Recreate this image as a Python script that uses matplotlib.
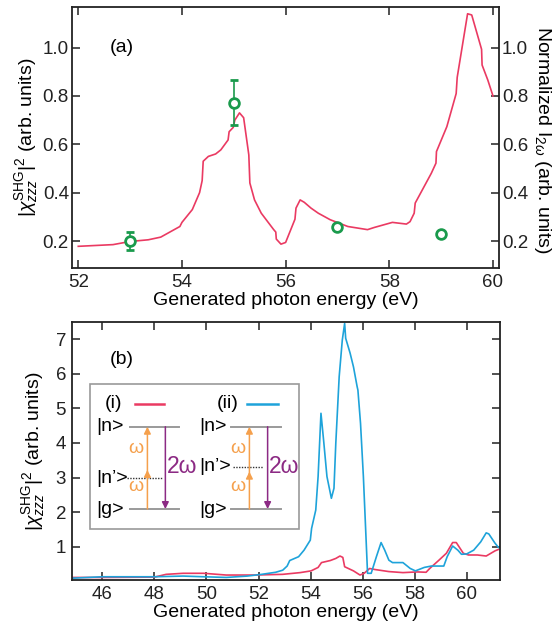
import matplotlib
matplotlib.use("Agg")
import matplotlib.pyplot as plt
from matplotlib.patches import Rectangle, FancyArrowPatch

plt.rcParams['font.family'] = ['Liberation Sans', 'DejaVu Sans']
plt.rcParams['mathtext.fontset'] = 'custom'
plt.rcParams['mathtext.rm'] = 'Liberation Sans'
plt.rcParams['mathtext.it'] = 'Liberation Sans:italic'
plt.rcParams['mathtext.sf'] = 'Liberation Sans'

RED = '#ea3a62'
BLUE = '#1ea3da'
GREEN = '#1a9a4c'
ORANGE = '#f5a04c'
PURPLE = '#8c2a84'
GRAY = '#9a9a9a'

# ---- panel (a): normalized harmonic intensity and extracted |chi|^2 ----
a_energy = [52.0, 52.67, 53.0, 53.35, 53.59, 53.96, 54.0, 54.2, 54.34, 54.39, 54.41,
            54.51, 54.65, 54.75, 54.89, 54.91, 54.99, 55.02, 55.11, 55.19, 55.29,
            55.31, 55.40, 55.53, 55.77, 55.81, 55.82, 55.91, 56.0, 56.18, 56.20,
            56.28, 56.36, 56.49, 56.63, 56.86, 57.2, 57.58, 57.71, 58.06, 58.33,
            58.4, 58.48, 58.5, 58.81, 58.9, 58.91, 59.11, 59.29, 59.31, 59.51,
            59.59, 59.78, 59.79, 59.9, 60.0]
a_intensity = [0.178, 0.185, 0.198, 0.205, 0.216, 0.26, 0.277, 0.33, 0.40, 0.45, 0.53,
               0.55, 0.56, 0.577, 0.618, 0.652, 0.67, 0.70, 0.73, 0.71, 0.556,
               0.44, 0.37, 0.315, 0.247, 0.237, 0.208, 0.187, 0.194, 0.29, 0.336,
               0.37, 0.36, 0.336, 0.315, 0.288, 0.26, 0.247, 0.256, 0.277, 0.27,
               0.28, 0.315, 0.357, 0.48, 0.522, 0.57, 0.673, 0.81, 0.877, 1.14,
               1.135, 0.993, 0.928, 0.866, 0.80]

chi_energy = [53, 55, 57, 59]
chi_value = [0.200, 0.770, 0.257, 0.227]
chi_err_low = [0.039, 0.091, 0.0, 0.0]
chi_err_high = [0.037, 0.094, 0.0, 0.0]

# ---- panel (b): calculated |chi|^2 for the two pathways ----
b_energy_i = [44.86, 46.0, 48.0, 48.45, 49.1, 49.9, 50.76, 51.84, 52.93, 53.6, 54.02,
              54.29, 54.42, 54.76, 54.97, 55.13, 55.24, 55.31, 55.65, 55.9, 56.06,
              56.27, 56.47, 57.01, 57.55, 58.1, 58.44, 58.58, 58.92, 59.22, 59.46,
              59.6, 59.87, 60.07, 60.41, 60.75, 61.09, 61.22]
b_chi_i = [0.11, 0.11, 0.12, 0.2, 0.23, 0.23, 0.18, 0.18, 0.2, 0.25, 0.3,
           0.4, 0.54, 0.6, 0.66, 0.73, 0.69, 0.42, 0.3, 0.18, 0.23,
           0.37, 0.34, 0.28, 0.25, 0.27, 0.26, 0.37, 0.6, 0.81, 1.12,
           1.12, 0.81, 0.76, 0.76, 0.73, 0.88, 0.92]

b_energy_ii = [44.86, 46.0, 48.0, 49.1, 49.9, 50.76, 51.57, 52.12, 52.66, 52.93, 53.1,
               53.2, 53.54, 53.75, 53.99, 54.04, 54.2, 54.29, 54.4, 54.5, 54.63,
               54.8, 54.9, 54.97, 55.1, 55.22, 55.31, 55.35, 55.52, 55.65, 55.79,
               55.82, 55.92, 56.03, 56.19, 56.33, 56.53, 56.71, 56.85, 57.01, 57.15,
               57.55, 57.83, 58.03, 58.37, 58.64, 59.12, 59.25, 59.46, 59.66, 59.8,
               60.0, 60.27, 60.54, 60.75, 60.85, 61.09, 61.22]
b_chi_ii = [0.09, 0.13, 0.13, 0.15, 0.13, 0.11, 0.15, 0.2, 0.26, 0.32, 0.44,
            0.6, 0.71, 0.9, 1.19, 1.53, 2.06, 3.03, 4.86, 4.09, 3.03,
            2.4, 2.69, 3.99, 5.92, 6.98, 7.46, 7.03, 6.6, 6.2, 5.63,
            5.53, 4.57, 3.03, 0.23, 0.23, 0.71, 1.12, 0.9, 0.61, 0.54,
            0.54, 0.37, 0.3, 0.4, 0.44, 0.44, 0.71, 1.02, 0.9, 0.78,
            0.79, 0.9, 1.14, 1.4, 1.37, 1.1, 0.98]

a_xticks = [52, 54, 56, 58, 60]
a_yticks = [0.2, 0.4, 0.6, 0.8, 1.0]
b_xticks = [46, 48, 50, 52, 54, 56, 58, 60]
b_yticks = [1, 2, 3, 4, 5, 6, 7]

FS = 14
TFS = 13.5
fig = plt.figure(figsize=(5.54, 6.30), dpi=100)
ax1 = fig.add_axes([0.1294, 0.5741, 0.7713, 0.4148])
ax2 = fig.add_axes([0.1294, 0.0794, 0.7731, 0.4100])


def style(ax):
    for s in ax.spines.values():
        s.set_linewidth(1.3)
        s.set_color('#222222')
    ax.tick_params(direction='in', length=6, width=1.1, top=True, right=True,
                   labelsize=TFS, colors='#222222', pad=4)


# panel (a)
ax1.plot(a_energy, a_intensity, color=RED, lw=1.2)
ax1.errorbar(chi_energy, chi_value, yerr=[chi_err_low, chi_err_high], fmt='o',
             mfc='white', mec=GREEN, mew=2.0, ms=7, ecolor=GREEN, elinewidth=1.2,
             capsize=3, capthick=1.2)
ax1.set_xlim(51.873, 60.116)
ax1.set_ylim(0.087, 1.168)
ax1.set_xticks(a_xticks)
ax1.set_yticks(a_yticks)
ax1.set_yticklabels([f'{v:.1f}' for v in a_yticks])
style(ax1)
ax1.tick_params(axis='y', labelright=True, pad=2)
ax1.set_xlabel('Generated photon energy (eV)', fontsize=FS, labelpad=1)
ax1.set_ylabel(r'$|\chi^{\rm SHG}_{zzz}|^2$ (arb. units)', fontsize=FS, labelpad=2)
fig.text(0.980, 0.778, r'Normalized I$_{2\omega}$ (arb. units)', fontsize=FS,
         rotation=270, ha='center', va='center')
ax1.text(52.84, 1.0, '(a)', fontsize=FS, ha='center', va='center')

# panel (b)
ax2.plot(b_energy_i, b_chi_i, color=RED, lw=1.2)
ax2.plot(b_energy_ii, b_chi_ii, color=BLUE, lw=1.2)
ax2.set_xlim(44.82, 61.28)
ax2.set_ylim(0.037, 7.51)
ax2.set_xticks(b_xticks)
ax2.set_yticks(b_yticks)
style(ax2)
ax2.set_xlabel('Generated photon energy (eV)', fontsize=FS, labelpad=1)
ax2.set_ylabel(r'$|\chi^{\rm SHG}_{zzz}|^2$ (arb. units)', fontsize=FS, labelpad=6)
ax2.text(46.75, 6.42, '(b)', fontsize=FS, ha='center', va='center')

# energy-level diagram inset
ax2.add_patch(Rectangle((45.52, 1.50), 53.54 - 45.52, 5.71 - 1.50, fill=True,
                        facecolor='white', edgecolor=GRAY, lw=1.2, zorder=3))


def diagram(xlab, nprime_y, mid_arrow_y, lev_x0, lev_x1, dot_x0, dot_x1,
            up_x, down_x, two_w_x, tag, tag_x, leg_x0, leg_x1, leg_color):
    z = 4
    y_n, y_g = 4.47, 2.09
    ax2.text(tag_x, 5.13, tag, fontsize=FS, ha='center', va='center', zorder=z)
    ax2.plot([leg_x0, leg_x1], [5.13, 5.13], color=leg_color, lw=1.8, zorder=z)
    ax2.text(xlab, y_n, '|n>', fontsize=FS, ha='left', va='center', zorder=z)
    ax2.text(xlab, nprime_y, '|n\u2019>', fontsize=FS, ha='left', va='center', zorder=z)
    ax2.text(xlab, y_g, '|g>', fontsize=FS, ha='left', va='center', zorder=z)
    ax2.plot([lev_x0, lev_x1], [y_n, y_n], color=GRAY, lw=1.4, zorder=z)
    ax2.plot([lev_x0, lev_x1], [y_g, y_g], color=GRAY, lw=1.4, zorder=z)
    ax2.plot([dot_x0, dot_x1], [nprime_y, nprime_y], color='#333333', lw=1.0,
             ls=(0, (1, 1)), zorder=z)
    ax2.add_patch(FancyArrowPatch((up_x, y_g), (up_x, mid_arrow_y),
                                  arrowstyle='-|>,head_length=4,head_width=2',
                                  color=ORANGE, lw=1.1, shrinkA=0, shrinkB=0, zorder=z))
    ax2.add_patch(FancyArrowPatch((up_x, mid_arrow_y - 0.05), (up_x, y_n),
                                  arrowstyle='-|>,head_length=4,head_width=2',
                                  color=ORANGE, lw=1.1, shrinkA=0, shrinkB=0, zorder=z))
    ax2.add_patch(FancyArrowPatch((down_x, y_n), (down_x, y_g),
                                  arrowstyle='-|>,head_length=4,head_width=2',
                                  color=PURPLE, lw=1.1, shrinkA=0, shrinkB=0, zorder=z))
    ax2.text(up_x - 0.44, 3.85, '\u03c9', fontsize=FS, color=ORANGE,
             ha='center', va='center', zorder=z)
    ax2.text(up_x - 0.44, 2.74, '\u03c9', fontsize=FS, color=ORANGE,
             ha='center', va='center', zorder=z)
    ax2.text(two_w_x, 3.33, '2\u03c9', fontsize=FS + 2.5, color=PURPLE,
             ha='center', va='center', zorder=z)


diagram(45.78, 2.98, 3.22, 47.06, 48.95, 46.95, 48.28,
        47.73, 48.42, 49.06, '(i)', 46.43, 47.25, 48.38, RED)
diagram(49.72, 3.31, 3.17, 50.96, 52.86, 51.03, 52.18,
        51.65, 52.35, 53.0, '(ii)', 50.83, 51.57, 52.73, BLUE)

fig.savefig('out.png', dpi=100)
